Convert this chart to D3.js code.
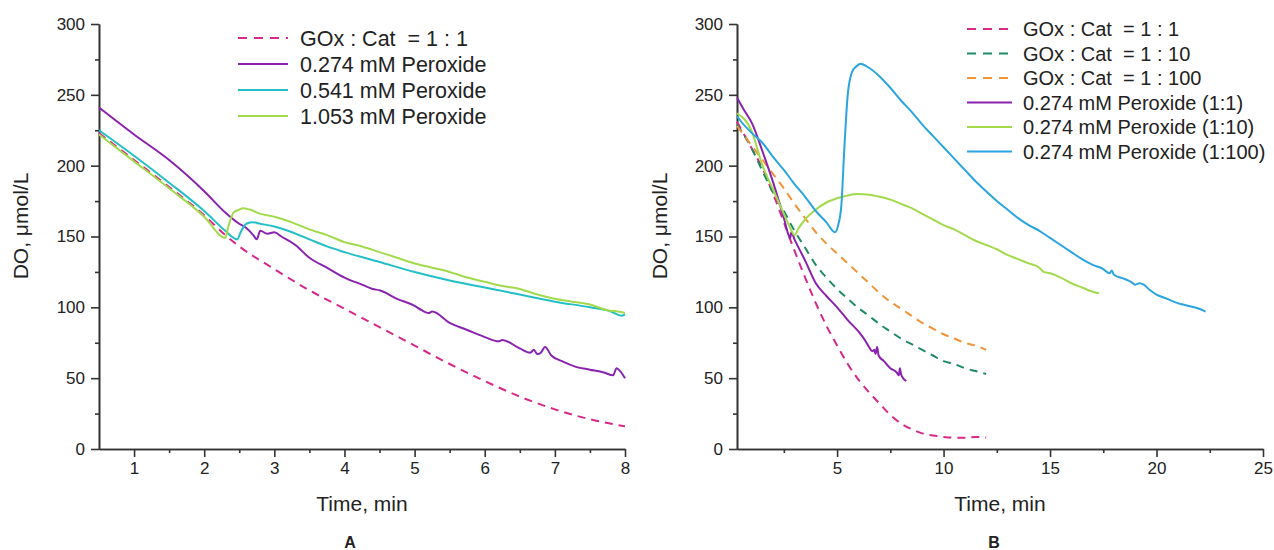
<!DOCTYPE html>
<html><head><meta charset="utf-8">
<script src="https://cdn.jsdelivr.net/npm/d3@7"></script>
<style>
body{margin:0;background:#fff;}
text{font-family:"Liberation Sans",Arial,sans-serif;fill:#222;}
</style></head>
<body><svg id="c" width="1274" height="550"></svg>
<script>
// ---------- Panel A data ----------
const aGox11 = [[0.5,223],[1,204],[1.5,185],[2,165],[2.3,151],[2.5,143],[3,127],[3.5,112],[4,99],[4.5,86],[5,73],[5.5,60],[6,48],[6.5,37],[7,28],[7.5,21],[8,16]];
const aP0274 = [[0.5,241],[1.0,222],[1.5,204],[2.0,182],[2.3,167],[2.5,159],[2.6,156],[2.7,151],[2.75,148],[2.8,154],[2.9,152],[3.0,153],[3.1,150],[3.3,144],[3.5,135],[3.75,128],[4.0,121],[4.25,116],[4.4,113],[4.5,112],[4.75,106],[5.0,101],[5.1,98],[5.2,96],[5.25,97],[5.5,89],[5.75,84],[6.0,79],[6.2,76],[6.25,77],[6.5,71],[6.65,68],[6.7,70],[6.75,67],[6.8,68],[6.86,72],[6.95,66],[7.1,62],[7.3,58],[7.5,56],[7.7,54],[7.83,52],[7.88,57],[7.93,55],[8.0,50]];
const aP0541 = [[0.5,225],[1.0,207],[1.5,188],[2.0,168],[2.3,154],[2.42,149],[2.47,148],[2.52,153],[2.6,159],[2.7,160],[2.8,159],[3.0,157],[3.25,153],[3.5,148],[3.75,143],[4.0,139],[4.5,132],[5.0,125],[5.5,119],[6.0,114],[6.5,109],[7.0,104],[7.5,100],[7.8,97],[7.95,94],[8.0,95]];
const aP1053 = [[0.5,222],[1.0,203],[1.5,184],[2.0,164],[2.3,149],[2.35,158],[2.42,167],[2.5,169],[2.55,170],[2.65,169],[2.8,166],[3.0,164],[3.25,160],[3.5,155],[3.75,151],[4.0,146],[4.25,143],[4.5,139],[4.75,135],[5.0,131],[5.25,128],[5.5,125],[5.75,121],[6.0,118],[6.25,115],[6.5,113],[6.75,109],[7.0,106],[7.25,104],[7.5,102],[7.75,98],[7.9,97],[8.0,96]];
const aLabels = ["GOx : Cat  = 1 : 1","0.274 mM Peroxide","0.541 mM Peroxide","1.053 mM Peroxide"];
const aXTicks = [1,2,3,4,5,6,7,8];
const aXMinor = [1.5,2.5,3.5,4.5,5.5,6.5,7.5];

// ---------- Panel B data ----------
const bGox11 = [[0.3,231],[1,212],[1.5,198],[2,180],[2.5,160],[3,140],[3.5,121],[4,103],[4.5,87],[5,73],[5.5,60],[6,49],[6.5,40],[7,32],[7.5,24],[8,18],[8.5,14],[9,11],[9.5,9.5],[10,8.5],[10.5,8],[11,8],[11.5,8.5],[12,8]];
const bGox110 = [[0.3,229],[1,212],[1.5,196],[2,181],[2.5,168],[3,154],[3.5,142],[4,130],[4.5,121],[5,113],[5.5,106],[6,99.5],[6.5,94],[7,88],[7.5,83],[8,78],[8.5,74],[9,70],[9.5,66],[10,62],[10.5,60],[11,57],[11.5,55],[12,53]];
const bGox1100 = [[0.3,228],[1,214],[1.5,204],[2,194],[2.5,184],[3,173],[3.5,163],[4,153],[4.5,145],[5,138],[5.5,131],[6,124],[6.5,117],[7,110],[7.5,104],[8,99],[8.5,94],[9,89],[9.5,85],[10,81],[10.5,78],[11,75],[11.5,73],[12,70]];
const bP11 = [[0.3,248],[0.6,240],[1.0,230],[1.5,210],[2.0,188],[2.5,163],[2.75,150],[2.8,149],[2.85,153],[3.0,148],[3.5,133],[4.0,117],[4.5,108],[5.0,100],[5.5,91],[6.0,83],[6.3,77],[6.5,72],[6.65,69],[6.75,70],[6.8,67],[6.88,72],[6.95,66],[7.2,62],[7.5,57],[7.8,54],[7.9,52],[7.95,57],[8.0,53],[8.1,50],[8.25,48]];
const bP110 = [[0.3,237],[1,224],[1.5,200],[2,183],[2.5,166],[2.8,156],[3.0,151],[3.2,156],[3.5,162],[4,169],[4.5,174],[5,177],[5.5,179],[6,180],[6.5,179.5],[7,178],[7.5,176],[8,173],[8.5,170],[9,166],[9.5,162],[10,158],[10.5,155],[11,151],[11.5,147],[12,144],[12.5,141],[13,137],[13.5,134],[14,131],[14.5,128],[14.7,125],[15,124],[15.5,121],[16,117],[16.5,114],[17,111],[17.3,110]];
const bP1100 = [[0.3,235],[0.5,231],[1,223],[1.5,216],[2,206],[2.5,197],[3,187],[3.5,178],[4,168],[4.5,160],[4.9,153],[5.05,158],[5.2,172],[5.35,215],[5.5,250],[5.7,266],[5.9,270],[6.1,272],[6.4,270],[7,263],[7.5,255],[8,246],[8.5,238],[9,229],[9.5,221],[10,213],[10.5,205],[11,197],[11.5,189],[12,182],[12.5,175],[13,169],[13.5,163],[14,158],[14.5,154],[15,149],[15.5,144],[16,139],[16.5,134],[17,130],[17.5,127],[17.8,124],[17.9,126],[18,123],[18.5,120],[18.8,118],[19,116],[19.2,117],[19.4,116],[19.7,112],[20,109],[20.5,106],[21,103],[21.5,101],[22,99],[22.3,97]];
const bLabels = ["GOx : Cat  = 1 : 1","GOx : Cat  = 1 : 10","GOx : Cat  = 1 : 100","0.274 mM Peroxide (1:1)","0.274 mM Peroxide (1:10)","0.274 mM Peroxide (1:100)"];
const bXTicks = [5,10,15,20,25];
const bXMinor = [2.5,7.5,12.5,17.5,22.5];

const yTicks = [0,50,100,150,200,250,300];
const yMinor = [25,75,125,175,225,275];

const C = {pink:"#d8288a", purple:"#8a22b0", cyan:"#22c0c6", lime:"#a2da4c", teal:"#1e8a68", orange:"#f0943a", blue:"#2aa5e0"};

const svg = d3.select("#c");
svg.append("rect").attr("width",1274).attr("height",550).attr("fill","#fff");

function panel(o){
  const x = d3.scaleLinear().domain(o.xdom).range(o.xr);
  const y = d3.scaleLinear().domain([0,300]).range([449,24]);
  const g = svg.append("g");
  const axColor = "#333";
  const styleAxis = s => { s.selectAll("path,line").attr("stroke",axColor).attr("stroke-width",1.6); s.selectAll("text").attr("font-size",17).attr("fill","#222").style("font-family","Liberation Sans, Arial, sans-serif"); };
  g.append("g").attr("transform",`translate(0,449)`).call(d3.axisBottom(x).tickValues(o.xt).tickFormat(d3.format("d")).tickSize(8).tickSizeOuter(0).tickPadding(5)).call(styleAxis);
  g.append("g").attr("transform",`translate(0,449)`).call(d3.axisBottom(x).tickValues(o.xm).tickFormat("").tickSize(4).tickSizeOuter(0)).call(styleAxis);
  g.append("g").attr("transform",`translate(${o.xr[0]},0)`).call(d3.axisLeft(y).tickValues(yTicks).tickSize(8).tickSizeOuter(0).tickPadding(6)).call(styleAxis);
  g.append("g").attr("transform",`translate(${o.xr[0]},0)`).call(d3.axisLeft(y).tickValues(yMinor).tickFormat("").tickSize(4).tickSizeOuter(0)).call(styleAxis);
  const line = d3.line().x(d=>x(d[0])).y(d=>y(d[1])).curve(d3.curveMonotoneX);
  o.series.forEach(s=>{
    g.append("path").datum(s.data).attr("d",line).attr("fill","none").attr("stroke",s.color)
     .attr("stroke-width",2).attr("stroke-dasharray",s.dash?"8,6":null).attr("stroke-linejoin","round");
  });
  // legend
  o.legendOrder.forEach((s,i)=>{
    const cy = o.leg.y0 + i*o.leg.dy;
    g.append("line").attr("x1",o.leg.x1).attr("x2",o.leg.x2).attr("y1",cy).attr("y2",cy)
      .attr("stroke",s.color).attr("stroke-width",2.2).attr("stroke-dasharray",s.dash?"9,7":null);
    g.append("text").attr("x",o.leg.tx).attr("y",cy).attr("dy","0.35em").attr("font-size",o.leg.fs).text(s.label).style("white-space","pre");
  });
  g.append("text").attr("x",(o.xr[0]+o.xr[1])/2).attr("y",511).attr("text-anchor","middle").attr("font-size",21).text("Time, min");
  g.append("text").attr("transform",`translate(${o.ytx},226) rotate(-90)`).attr("text-anchor","middle").attr("dy","0.35em").attr("font-size",21).text("DO, \u03bcmol/L");
  g.append("text").attr("x",o.letterX).attr("y",542).attr("dy","0.35em").attr("text-anchor","middle").attr("font-size",16).attr("font-weight","bold").text(o.letter);
}

const aSeries = [
  {data:aGox11,color:C.pink,dash:true,label:aLabels[0]},
  {data:aP0274,color:C.purple,label:aLabels[1]},
  {data:aP0541,color:C.cyan,label:aLabels[2]},
  {data:aP1053,color:C.lime,label:aLabels[3]}
];
panel({xdom:[0.5,8],xr:[99,625],xt:aXTicks,xm:aXMinor,series:aSeries,legendOrder:aSeries,
  leg:{x1:238,x2:288,tx:300,y0:38,dy:26,fs:21.5},ytx:21,letter:"A",letterX:350});

const bSeries = [
  {data:bGox11,color:C.pink,dash:true,label:bLabels[0]},
  {data:bGox110,color:C.teal,dash:true,label:bLabels[1]},
  {data:bGox1100,color:C.orange,dash:true,label:bLabels[2]},
  {data:bP11,color:C.purple,label:bLabels[3]},
  {data:bP110,color:C.lime,label:bLabels[4]},
  {data:bP1100,color:C.blue,label:bLabels[5]}
];
panel({xdom:[0.3,25],xr:[737,1263],xt:bXTicks,xm:bXMinor,series:bSeries,legendOrder:bSeries,
  leg:{x1:967,x2:1012,tx:1023,y0:29,dy:24.5,fs:20},ytx:660,letter:"B",letterX:994});
</script></body></html>
